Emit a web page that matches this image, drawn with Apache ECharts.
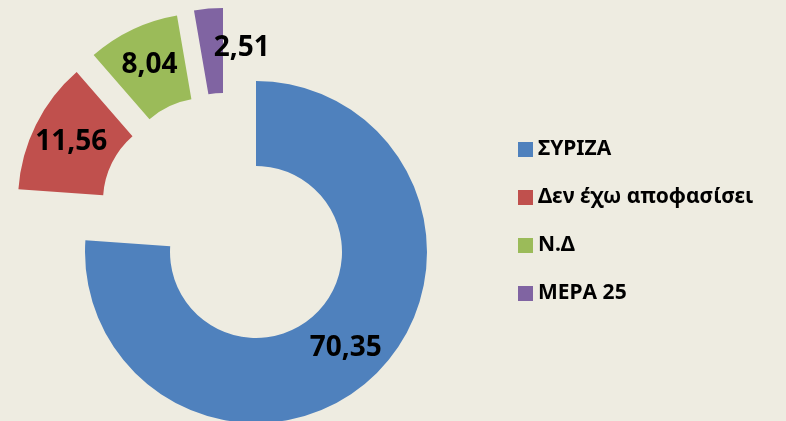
<!DOCTYPE html>
<html>
<head>
<meta charset="utf-8">
<script src="https://cdn.jsdelivr.net/npm/echarts@6/dist/echarts.min.js"></script>
<style>
  html, body { margin: 0; padding: 0; background: #EEECE1; }
  #chart { width: 786px; height: 421px; }
</style>
</head>
<body>
<div id="chart"></div>
<script>
var names = ['ΣΥΡΙΖΑ', 'Δεν έχω αποφασίσει', 'Ν.Δ', 'ΜΕΡΑ 25']
var values = [70.35, 11.56, 8.04, 2.51]
var colors = ['#4F81BD', '#C0504D', '#9BBB59', '#8064A2']
// each slice is drawn by its own copy of the ring, moved out like Excel's exploded doughnut
var sliceCenters = [[256, 252], [189, 201], [206, 184], [223, 179]]
var labelPads = [[0, 0, 0, 0], [0, 0, 0, 0], [0, 0, 0, 0], [0, 0, 0, 60]]

var font = '"Noto Sans", sans-serif'

var series = names.map(function(n, i) {
  return {
    type: 'pie',
    center: sliceCenters[i],
    radius: [86, 171],
    startAngle: 90,
    clockwise: true,
    silent: true,
    emphasis: { disabled: true },
    labelLine: { show: false },
    data: names.map(function(m, j) {
      return {
        name: m,
        value: values[j],
        itemStyle: { color: j === i ? colors[j] : 'transparent' },
        label: {
          show: j === i,
          position: 'inside',
          color: '#000',
          fontFamily: font,
          fontWeight: 'bold',
          fontSize: 28,
          padding: labelPads[j],
          formatter: function(p) {
            return p.value.toFixed(2).replace('.', ',')
          }
        }
      }
    })
  }
})

var chart = echarts.init(document.getElementById('chart'))
chart.setOption({
  backgroundColor: '#EEECE1',
  animation: false,
  legend: {
    orient: 'vertical',
    left: 518,
    top: 139,
    padding: 0,
    icon: 'rect',
    itemWidth: 15,
    itemHeight: 15,
    itemGap: 27,
    textStyle: {
      color: '#000',
      fontFamily: font,
      fontWeight: 'bold',
      fontSize: 21,
      lineHeight: 21
    },
    data: names.map(function(n, i) {
      return { name: n, itemStyle: { color: colors[i] } }
    })
  },
  series: series
})
</script>
</body>
</html>
